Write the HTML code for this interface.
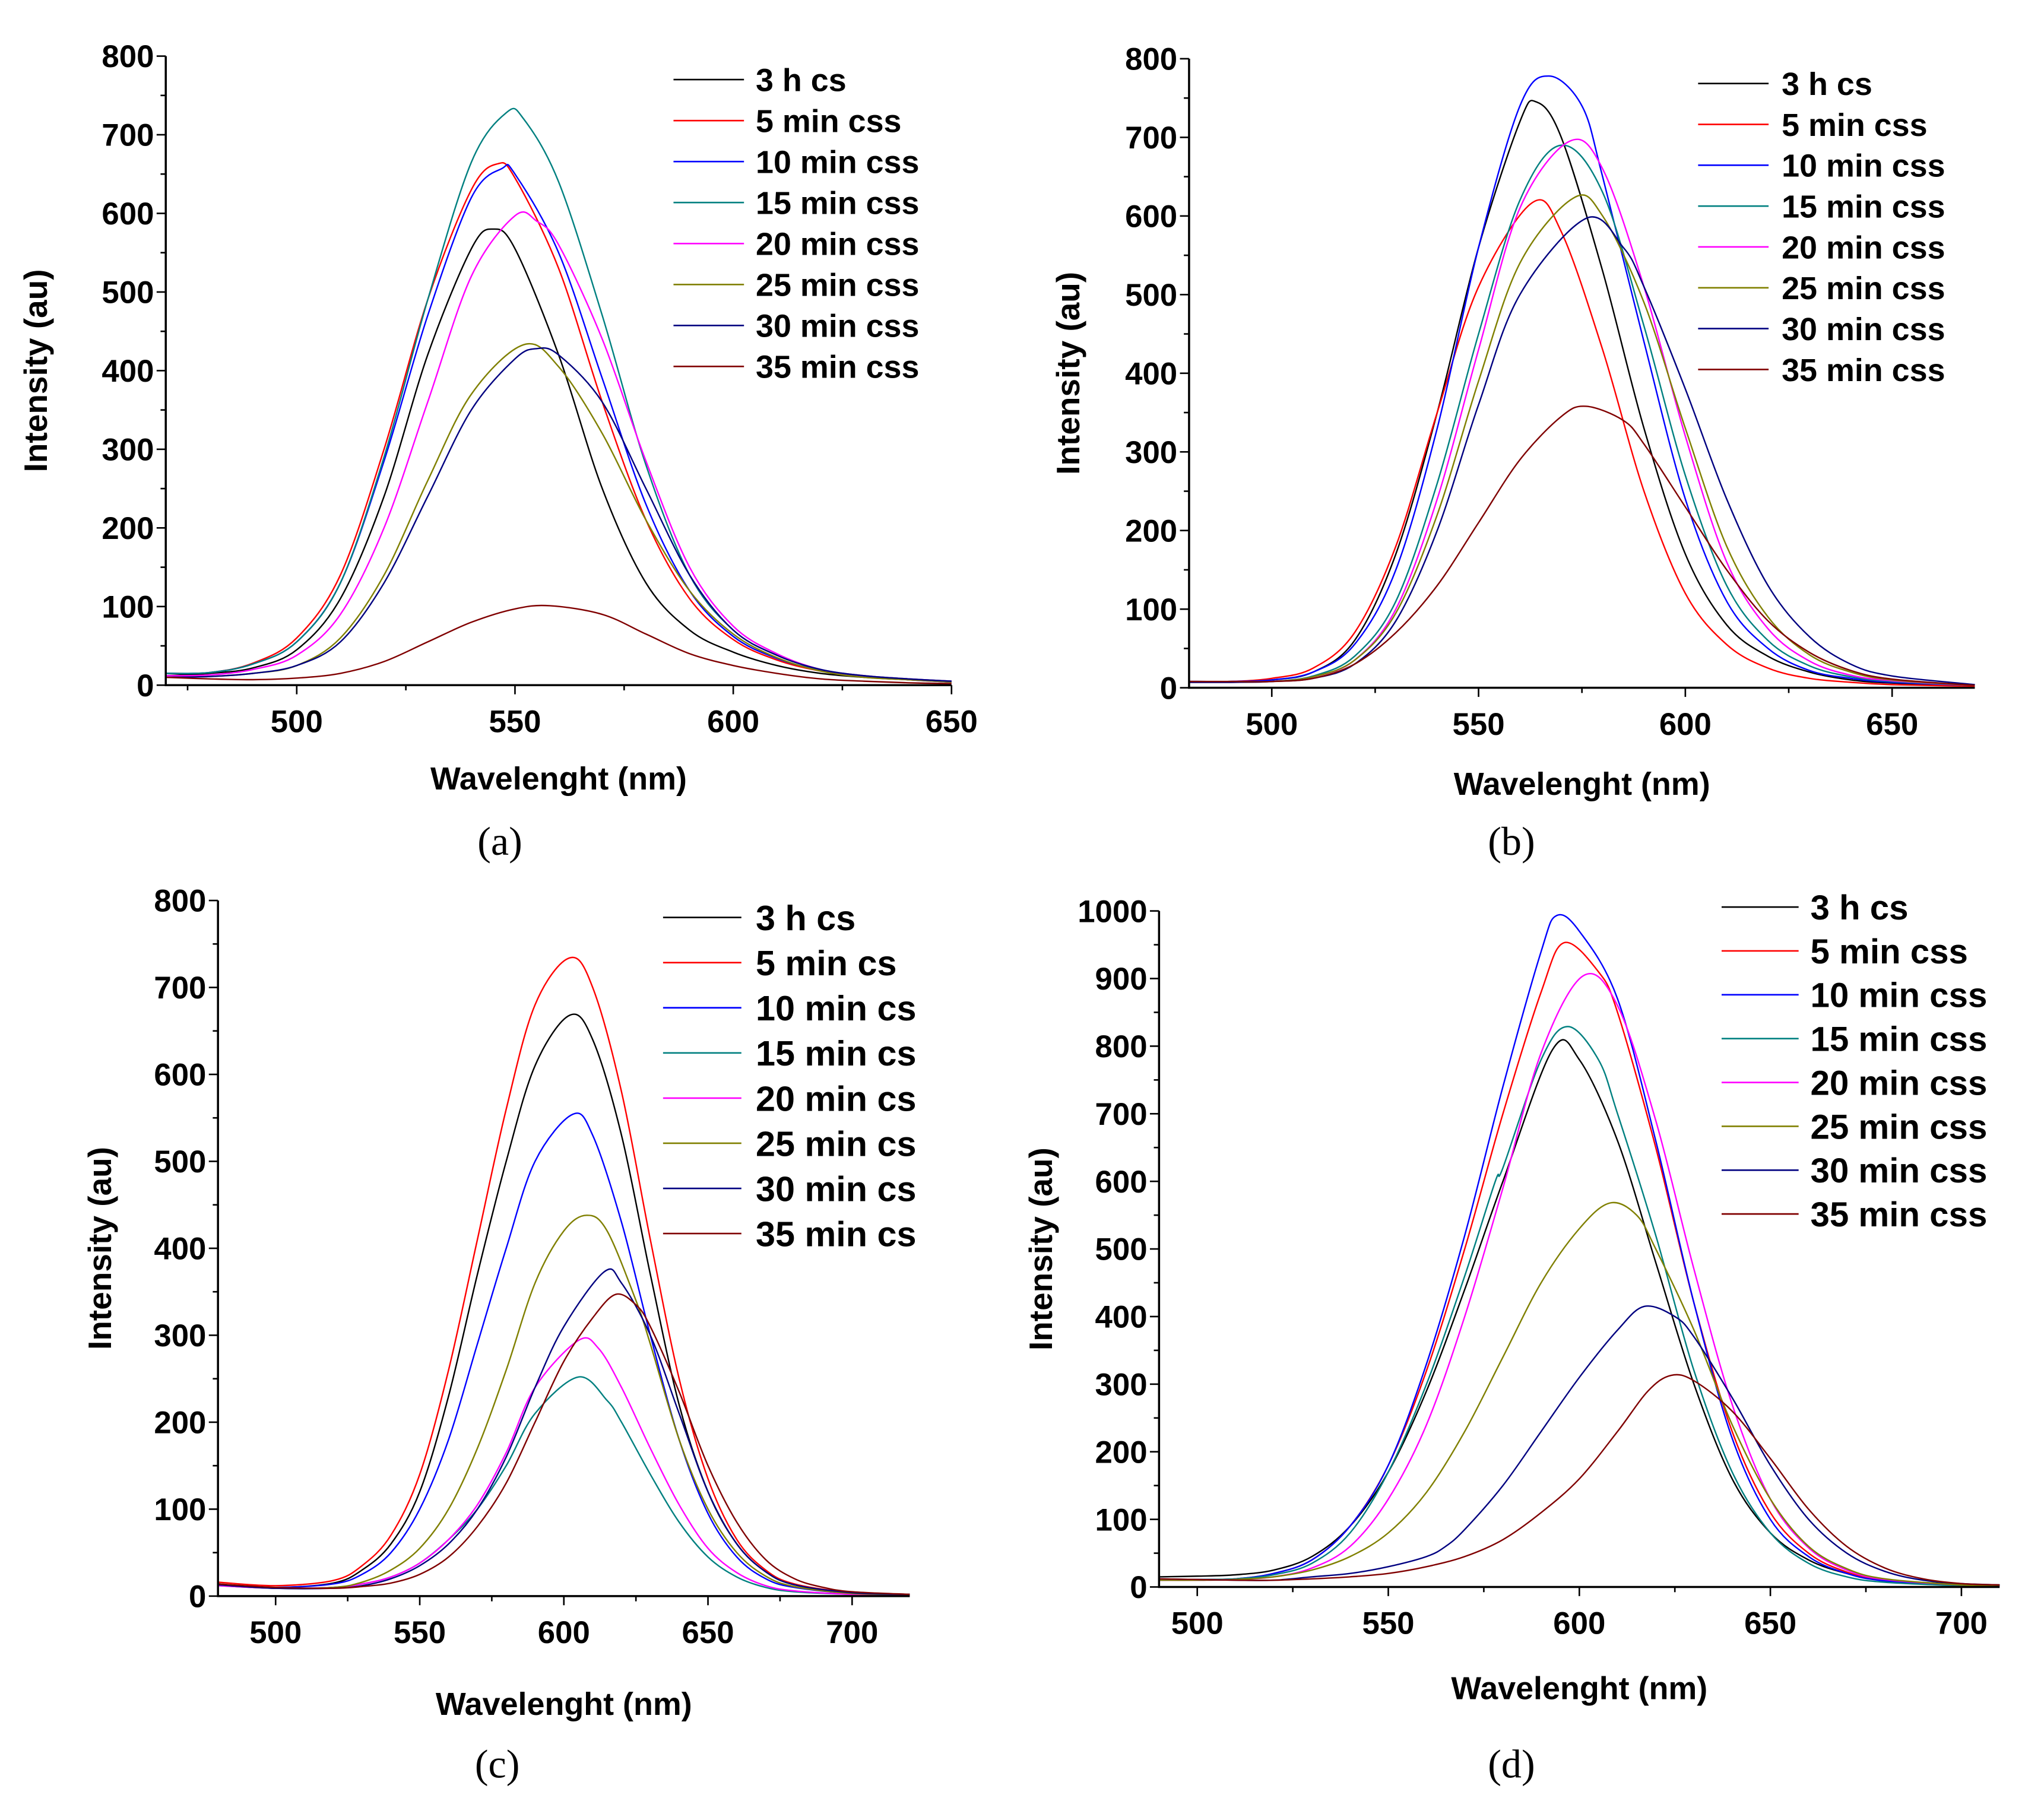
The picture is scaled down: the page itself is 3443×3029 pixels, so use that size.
<!DOCTYPE html>
<html><head><meta charset="utf-8"><style>
html,body{margin:0;padding:0;background:#fff}
svg{display:block}
text{font-family:"Liberation Sans",Arial,sans-serif;font-weight:bold;fill:#000}
.cap{font-family:"Liberation Serif",serif;font-weight:normal}
</style></head><body>
<svg id="fig" width="3443" height="3029" viewBox="0 0 1566 1377.7" preserveAspectRatio="none" xmlns="http://www.w3.org/2000/svg"></svg>
<script>
const colors=["#000000","#ff0000","#0000ff","#008080","#ff00ff","#808000","#000080","#800000"];
const labelsA=["3 h cs","5 min css","10 min css","15 min css","20 min css","25 min css","30 min css","35 min css"];
const labelsC=["3 h cs","5 min cs","10 min cs","15 min cs","20 min cs","25 min cs","30 min cs","35 min cs"];
const ticksA=[500,550,600,650], ticksB=[500,550,600,650], ticksC=[500,550,600,650,700], ticksD=[500,550,600,650,700];
const yTicks800=[0,100,200,300,400,500,600,700,800];
const yTicks1000=[0,100,200,300,400,500,600,700,800,900,1000];

const a_3h=[[470,12],[480,15],[490,22],[500,45],[510,110],[520,240],[530,420],[540,555],[545,580],[550,555],[560,420],[570,250],[580,130],[590,70],[600,42],[610,25],[620,15],[630,10],[640,7],[650,5]];
const a_5=[[470,15],[480,16],[490,28],[500,60],[510,140],[520,300],[530,490],[540,630],[546,663],[550,645],[560,530],[570,360],[580,210],[590,110],[600,58],[610,32],[620,18],[630,11],[640,7],[650,4]];
const a_10=[[470,15],[480,16],[490,27],[500,55],[510,130],[520,285],[530,470],[540,620],[547,657],[550,650],[560,550],[570,390],[580,230],[590,120],[600,62],[610,34],[620,19],[630,11],[640,7],[650,4]];
const a_15=[[470,15],[480,16],[490,27],[500,55],[510,130],[520,290],[530,490],[540,665],[548,728],[552,720],[560,640],[570,470],[580,280],[590,140],[600,70],[610,38],[620,20],[630,12],[640,8],[650,5]];
const a_20=[[470,12],[480,13],[490,20],[500,38],[510,90],[520,200],[530,360],[540,520],[550,597],[555,590],[560,560],[570,440],[580,285],[590,150],[600,75],[610,40],[620,20],[630,12],[640,8],[650,5]];
const a_25=[[470,10],[480,11],[490,15],[500,25],[510,60],[520,140],[530,260],[540,370],[552,433],[560,405],[570,320],[580,210],[590,120],[600,65],[610,35],[620,18],[630,10],[640,7],[650,4]];
const a_30=[[470,10],[480,11],[490,15],[500,25],[510,55],[520,130],[530,240],[540,350],[550,415],[555,428],[560,420],[570,360],[580,250],[590,140],[600,70],[610,38],[620,20],[630,12],[640,8],[650,5]];
const a_35=[[470,10],[480,8],[490,7],[500,9],[510,15],[520,30],[530,55],[540,80],[550,97],[558,101],[570,90],[580,65],[590,40],[600,25],[610,15],[620,8],[630,5],[640,3],[650,2]];

const b_3h=[[480,8],[490,8],[500,10],[510,20],[520,60],[530,170],[540,350],[550,560],[560,720],[564,745],[570,700],[580,530],[590,330],[600,170],[610,80],[620,40],[630,20],[640,10],[650,6],[670,3]];
const b_5=[[480,8],[490,8],[500,12],[510,25],[520,70],[530,180],[540,350],[550,510],[563,617],[570,580],[580,430],[590,250],[600,120],[610,55],[620,25],[630,12],[640,7],[650,4],[670,2]];
const b_10=[[480,8],[490,8],[500,10],[510,20],[520,55],[530,150],[540,330],[550,560],[560,740],[567,778],[575,740],[580,650],[590,440],[600,240],[610,110],[620,50],[630,22],[640,12],[650,7],[670,3]];
const b_15=[[480,7],[490,7],[500,8],[510,15],[520,40],[530,110],[540,260],[550,450],[560,620],[570,690],[580,630],[590,460],[600,270],[610,130],[620,60],[630,28],[640,14],[650,8],[670,3]];
const b_20=[[480,7],[490,7],[500,8],[510,14],[520,35],[530,100],[540,240],[550,430],[560,610],[572,695],[580,660],[590,510],[600,320],[610,160],[620,75],[630,34],[640,16],[650,9],[670,3]];
const b_25=[[480,7],[490,7],[500,8],[510,14],[520,35],[530,95],[540,220],[550,390],[560,540],[573,623],[580,600],[590,490],[600,330],[610,180],[620,90],[630,42],[640,20],[650,10],[670,3]];
const b_30=[[480,7],[490,7],[500,8],[510,12],[520,30],[530,85],[540,200],[550,360],[560,500],[576,597],[585,560],[590,510],[600,380],[610,240],[620,130],[630,65],[640,30],[650,15],[670,4]];
const b_35=[[480,8],[490,8],[500,8],[510,12],[520,30],[530,70],[540,130],[550,210],[560,290],[570,345],[576,358],[585,340],[590,310],[600,230],[610,150],[620,85],[630,45],[640,22],[650,11],[670,3]];

const c_3h=[[480,14],[500,10],[520,15],[530,30],[540,60],[550,120],[560,230],[570,370],[580,500],[590,610],[602,668],[610,640],[620,530],[630,370],[640,220],[650,120],[660,60],[670,28],[680,13],[700,4],[720,2]];
const c_5=[[480,16],[500,12],[520,18],[530,35],[540,70],[550,140],[560,260],[570,410],[580,560],[590,680],[602,734],[610,700],[620,580],[630,410],[640,250],[650,135],[660,65],[670,30],[680,14],[700,4],[720,2]];
const c_10=[[480,13],[500,10],[520,14],[530,25],[540,50],[550,100],[560,180],[570,290],[580,400],[590,500],[603,554],[610,530],[620,430],[630,300],[640,180],[650,95],[660,45],[670,20],[680,10],[700,3],[720,2]];
const c_15=[[480,12],[500,9],[520,10],[530,14],[540,22],[550,38],[560,65],[570,100],[580,150],[590,210],[605,252],[615,225],[620,200],[630,140],[640,85],[650,45],[660,22],[670,10],[680,5],[700,2],[720,1]];
const c_20=[[480,12],[500,9],[520,10],[530,14],[540,22],[550,38],[560,65],[570,105],[580,165],[590,240],[605,294],[612,285],[620,240],[630,170],[640,105],[650,55],[660,27],[670,12],[680,6],[700,2],[720,1]];
const c_25=[[480,13],[500,9],[520,10],[530,16],[540,30],[550,55],[560,100],[570,170],[580,260],[590,360],[600,420],[608,438],[615,420],[625,340],[630,290],[640,180],[650,100],[660,50],[670,23],[680,11],[700,3],[720,2]];
const c_30=[[480,13],[500,9],[520,9],[530,12],[540,20],[550,35],[560,60],[570,100],[580,160],[590,240],[600,310],[614,373],[620,360],[630,300],[640,210],[650,120],[660,60],[670,28],[680,13],[700,4],[720,2]];
const c_35=[[480,14],[500,10],[520,9],[530,11],[540,15],[550,25],[560,45],[570,80],[580,130],[590,200],[600,270],[610,320],[618,347],[625,335],[630,310],[640,235],[650,150],[660,85],[670,42],[680,20],[690,10],[700,5],[720,2]];

const d_3h=[[490,15],[500,16],[510,18],[520,25],[530,45],[540,90],[550,170],[560,290],[570,440],[580,600],[593,795],[600,780],[610,660],[620,480],[630,300],[640,160],[650,80],[660,40],[670,20],[680,10],[700,4],[710,3]];
const d_5=[[490,10],[500,11],[510,12],[520,20],[530,40],[540,90],[550,180],[560,320],[570,500],[580,700],[590,880],[596,953],[605,910],[610,850],[620,650],[630,420],[640,230],[650,110],[660,50],[670,22],[680,10],[700,3],[710,2]];
const d_10=[[490,10],[500,11],[510,12],[520,20],[530,40],[540,90],[550,180],[560,330],[570,520],[580,740],[590,940],[594,993],[600,970],[610,870],[620,660],[630,420],[640,220],[650,100],[660,45],[670,20],[680,9],[700,3],[710,2]];
const d_15=[[490,10],[500,11],[510,12],[520,18],[530,35],[540,80],[550,170],[560,300],[570,460],[578,600],[580,620],[590,780],[597,829],[605,780],[610,700],[620,520],[630,320],[640,170],[650,80],[660,35],[670,15],[680,7],[700,2],[710,2]];
const d_20=[[490,10],[500,10],[510,11],[520,15],[530,28],[540,60],[550,130],[560,240],[570,400],[580,590],[590,790],[601,904],[610,860],[620,690],[630,470],[640,270],[650,130],[660,58],[670,25],[680,11],[700,3],[710,2]];
const d_25=[[490,10],[500,10],[510,11],[520,15],[530,25],[540,45],[550,80],[560,140],[570,230],[580,340],[590,450],[600,530],[608,568],[615,550],[620,500],[630,380],[640,240],[650,130],[660,60],[670,27],[680,12],[700,3],[710,2]];
const d_30=[[490,12],[500,11],[510,10],[520,10],[530,15],[540,20],[550,30],[560,45],[565,60],[570,85],[580,150],[590,230],[600,310],[610,380],[617,415],[625,400],[630,370],[640,280],[650,180],[660,100],[670,50],[680,23],[690,10],[700,5],[710,3]];
const d_35=[[490,12],[500,11],[510,10],[520,10],[530,12],[540,15],[550,20],[560,30],[570,45],[580,70],[590,110],[600,160],[610,230],[618,290],[624,313],[630,305],[640,260],[650,190],[660,115],[670,60],[680,28],[690,12],[700,5],[710,3]];

const NS="http://www.w3.org/2000/svg";
const svg=document.getElementById('fig');
function mk(tag,attrs,parent){const e=document.createElementNS(NS,tag);for(const k in attrs)e.setAttribute(k,attrs[k]);(parent||svg).appendChild(e);return e;}

const panels=[
 {id:'a',series:[a_3h,a_5,a_10,a_15,a_20,a_25,a_30,a_35],labels:labelsA,xmin:470,xmax:650,ymax:800,yt:yTicks800,xt:ticksA,L:127,R:729,T:43,B:525,xminor:25,yminor:50,
  leg:{x1:516,x2:570,tx:579,y0:61,dy:31.4,fs:24.5},ylx:27,xly:603,cap:'(a)',capx:383,capy:655,xmid:428},
 {id:'b',series:[b_3h,b_5,b_10,b_15,b_20,b_25,b_30,b_35],labels:labelsA,xmin:480,xmax:670,ymax:800,yt:yTicks800,xt:ticksB,L:911,R:1513,T:45,B:527,xminor:25,yminor:50,
  leg:{x1:1301,x2:1355,tx:1365,y0:64,dy:31.3,fs:24.5},ylx:818,xly:607,cap:'(b)',capx:1158,capy:655,xmid:1212},
 {id:'c',series:[c_3h,c_5,c_10,c_15,c_20,c_25,c_30,c_35],labels:labelsC,xmin:480,xmax:720,ymax:800,yt:yTicks800,xt:ticksC,L:167,R:697,T:690,B:1223,xminor:25,yminor:50,
  leg:{x1:508,x2:568,tx:579,y0:703,dy:34.6,fs:27},ylx:76,xly:1312,cap:'(c)',capx:381,capy:1362,xmid:432},
 {id:'d',series:[d_3h,d_5,d_10,d_15,d_20,d_25,d_30,d_35],labels:labelsA,xmin:490,xmax:710,ymax:1000,yt:yTicks1000,xt:ticksD,L:888,R:1532,T:698,B:1216,xminor:25,yminor:50,
  leg:{x1:1319,x2:1378,tx:1387,y0:695,dy:33.6,fs:26.5},ylx:797,xly:1300,cap:'(d)',capx:1158,capy:1362,xmid:1210}
];

function catmull(pts){
  let d='M'+pts[0][0].toFixed(2)+','+pts[0][1].toFixed(2);
  for(let i=0;i<pts.length-1;i++){
    const p0=pts[i-1]||pts[i],p1=pts[i],p2=pts[i+1],p3=pts[i+2]||p2;
    const c1=[p1[0]+(p2[0]-p0[0])/6,p1[1]+(p2[1]-p0[1])/6];
    const c2=[p2[0]-(p3[0]-p1[0])/6,p2[1]-(p3[1]-p1[1])/6];
    d+='C'+c1[0].toFixed(2)+','+c1[1].toFixed(2)+' '+c2[0].toFixed(2)+','+c2[1].toFixed(2)+' '+p2[0].toFixed(2)+','+p2[1].toFixed(2);
  }
  return d;
}

panels.forEach(p=>{
  const sx=v=>p.L+(v-p.xmin)/(p.xmax-p.xmin)*(p.R-p.L);
  const sy=v=>p.B-v/p.ymax*(p.B-p.T);
  const g=mk('g',{});
  
  
  p.series.forEach((s,i)=>{
    const path=mk('path',{d:catmull(s.map(q=>[sx(q[0]),sy(q[1])])),fill:'none',stroke:colors[i],'stroke-width':1.1},g);
    
    
  });
  const ax=mk('path',{d:`M${p.L},${p.T}V${p.B}H${p.R}`,fill:'none',stroke:'#000','stroke-width':1.6},g);
  
  
  for(let v=0;v<=p.ymax;v+=p.yminor){
    const y=sy(v);const maj=v%100===0;
    mk('line',{x1:p.L-(maj?7:4),x2:p.L,y1:y,y2:y,stroke:'#000','stroke-width':1.2},g);
  }
  p.yt.forEach(v=>{
    const t=mk('text',{x:p.L-9,y:sy(v)+8.5,'text-anchor':'end','font-size':24},g);t.textContent=v;
    
    
  });
  for(let v=Math.ceil(p.xmin/p.xminor)*p.xminor;v<=p.xmax;v+=p.xminor){
    const x=sx(v);const maj=v%50===0;
    mk('line',{x1:x,x2:x,y1:p.B,y2:p.B+(maj?7:4),stroke:'#000','stroke-width':1.2},g);
  }
  p.xt.forEach(v=>{
    const t=mk('text',{x:sx(v),y:p.B+36,'text-anchor':'middle','font-size':24},g);t.textContent=v;
    
    
  });
  const yl=mk('text',{x:0,y:0,'text-anchor':'middle','font-size':25,transform:`translate(${p.ylx+9},${(p.T+p.B)/2}) rotate(-90)`},g);
  yl.textContent='Intensity (au)';
  
  
  const xl=mk('text',{x:p.xmid,y:p.xly+2,'text-anchor':'middle','font-size':24.5},g);
  xl.textContent='Wavelenght (nm)';
  
  
  const cap=mk('text',{x:p.capx,y:p.capy,'text-anchor':'middle','font-size':31,'class':'cap'},g);
  cap.textContent=p.cap;
  
  
  p.labels.forEach((lab,i)=>{
    const y=p.leg.y0+i*p.leg.dy;
    const ln=mk('line',{x1:p.leg.x1,x2:p.leg.x2,y1:y,y2:y,stroke:colors[i],'stroke-width':1.2},g);
    
    
    const t=mk('text',{x:p.leg.tx,y:y+p.leg.fs*0.36,'font-size':p.leg.fs},g);t.textContent=lab;
    
    
  });
});
</script>
</body></html>
